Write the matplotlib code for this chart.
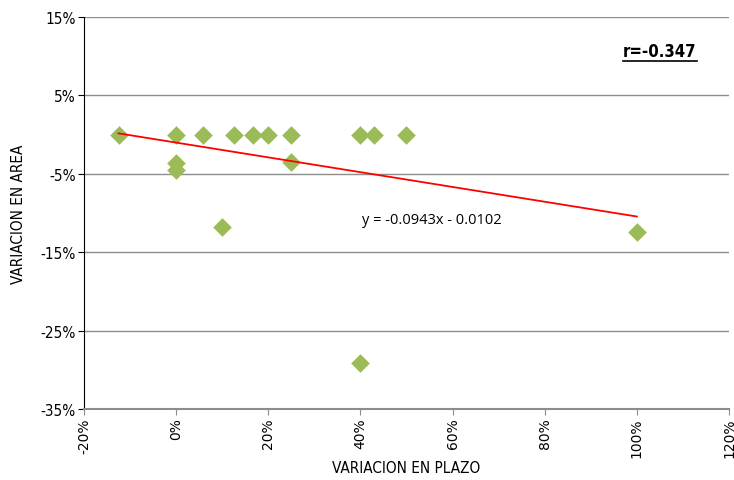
import matplotlib
matplotlib.use("Agg")
import matplotlib.pyplot as plt
from matplotlib.ticker import FuncFormatter

# variacion en plazo (x) vs variacion en area (y), as fractions
plazo = [-0.125, 0.0, 0.0, 0.0, 0.059, 0.10, 0.125, 0.167, 0.20, 0.25, 0.25,
         0.40, 0.43, 0.50, 1.00, 0.40]
area = [0.0, 0.0, -0.036, -0.045, 0.0, -0.118, 0.0, 0.0, 0.0, 0.0, -0.035,
        0.0, 0.0, 0.0, -0.124, -0.291]

slope, intercept = -0.0943, -0.0102
trend_x = [min(plazo), max(plazo)]
x_ticks = [-0.2, 0.0, 0.2, 0.4, 0.6, 0.8, 1.0, 1.2]
y_ticks = [-0.35, -0.25, -0.15, -0.05, 0.05, 0.15]

narrow = dict(family="DejaVu Sans", stretch="condensed")

fig = plt.figure(figsize=(7.34, 4.81), dpi=100)
ax = fig.add_axes([0.1144, 0.1476, 0.8788, 0.815])

ax.scatter(plazo, area, marker="D", s=90, color="#9BBB59", zorder=3, linewidths=0)
ax.plot(trend_x, [slope * x + intercept for x in trend_x], color="#FF0000", lw=1.3, zorder=4)

ax.set_xlim(-0.2, 1.2)
ax.set_ylim(-0.35, 0.15)
ax.set_xticks(x_ticks)
ax.set_yticks(y_ticks)
pct = FuncFormatter(lambda v, _: f"{v * 100:.0f}%")
ax.xaxis.set_major_formatter(pct)
ax.yaxis.set_major_formatter(pct)

for lab in ax.get_xticklabels():
    lab.set_rotation(90)
    lab.set_fontsize(10)
    lab.set_family("DejaVu Sans")
for lab in ax.get_yticklabels():
    lab.set_fontsize(11)
    lab.set_family("DejaVu Sans")
    lab.set_stretch("condensed")

ax.grid(axis="y", color="#8C8C8C", lw=1)
ax.set_axisbelow(True)
for side in ["top", "right"]:
    ax.spines[side].set_visible(False)
ax.spines["left"].set_color("black")
ax.spines["bottom"].set_color("#8C8C8C")
ax.spines["bottom"].set_linewidth(1.5)
ax.tick_params(axis="y", length=4, width=0.8, pad=2)
ax.tick_params(axis="x", length=4, width=0.8, color="#8C8C8C", pad=2)

ax.set_xlabel("VARIACION EN PLAZO", fontsize=11, labelpad=2, **narrow)
ax.set_ylabel("VARIACION EN AREA", fontsize=11, labelpad=10, **narrow)

ax.text(0.403, -0.108, "y = -0.0943x - 0.0102", fontsize=10.5, family="Open Sans",
        ha="left", va="center")
r_txt = ax.text(1.05, 0.1066, "r=-0.347", fontsize=12, fontweight="bold",
                ha="center", va="center", **narrow)

# underline the r label using its rendered extent
fig.canvas.draw()
bb = r_txt.get_window_extent().transformed(fig.transFigure.inverted())
fig.add_artist(plt.Line2D([bb.x0, bb.x1], [bb.y0 - 0.002, bb.y0 - 0.002],
                          color="black", lw=1.2, transform=fig.transFigure))

fig.savefig("out.png", dpi=100)
